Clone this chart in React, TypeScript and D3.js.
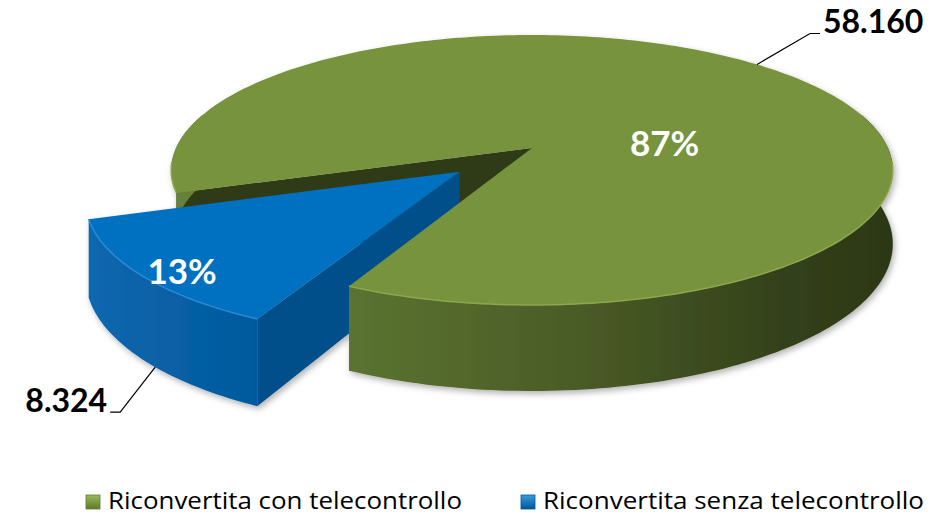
import React from "react";
import * as d3 from "d3";

// dati
const categories = ["Riconvertita con telecontrollo", "Riconvertita senza telecontrollo"];
const values = [58160, 8324];
const valueLabels = ["58.160", "8.324"];
const explode = [0, 0.264];

const topColors = ["#77933c", "#0070c0"];
const rimColors = ["#8ba84f", "#2a8ad6"];
const innerColors = ["#2f3b18", "#00508b"];
const legendColors = [
  ["#9bbb59", "#5f7a2c"],
  ["#3c9be0", "#00559a"],
];

const W = 937;
const H = 516;
// 3d projection of the pie plane (simple perspective)
const cx = 532;
const cy = 148;
const RX = 356;
const RY = 131.4;
const PERSP = 0.163;
const DEPTH = 72;
const START_DEG = 251.1;

const proj = (u: number, v: number, h = 0): [number, number] => {
  const w = 1 - PERSP * v;
  return [cx + (RX * u) / w, cy + (RY * v + h) / w];
};

const rim = (a0: number, a1: number, ou: number, ov: number, h: number) => {
  const n = Math.max(2, Math.ceil(Math.abs(a1 - a0) / 0.02));
  return d3.range(n + 1).map((i) => {
    const a = a0 + ((a1 - a0) * i) / n;
    return proj(ou + Math.cos(a), ov + Math.sin(a), h);
  });
};

const line = d3.line();
const poly = (p: [number, number][]) => line(p) + "Z";

export default function App() {
  const total = d3.sum(values);
  const pct = d3.format(".0%");
  const s0 = (START_DEG * Math.PI) / 180;
  const arcs = d3.pie<number>().sort(null).startAngle(s0).endAngle(s0 + 2 * Math.PI)(values);

  const slices = arcs.map((d, i) => {
    const a0 = d.startAngle - Math.PI / 2;
    const a1 = d.endAngle - Math.PI / 2;
    const mid = (a0 + a1) / 2;
    const ou = explode[i] * Math.cos(mid);
    const ov = explode[i] * Math.sin(mid);
    const top = poly([proj(ou, ov), ...rim(a0, a1, ou, ov, 0)]);
    const walls: string[] = [];
    const rims: string[] = [];
    const lo = (-15 * Math.PI) / 180;
    const hi = (195 * Math.PI) / 180;
    for (let k = -1; k <= 2; k++) {
      const l = Math.max(a0, lo + 2 * Math.PI * k);
      const h = Math.min(a1, hi + 2 * Math.PI * k);
      if (h > l) {
        walls.push(poly([...rim(l, h, ou, ov, 0), ...rim(h, l, ou, ov, DEPTH)]));
        const rl = Math.max(l, 2 * Math.PI * k + 0.1);
        const rh = Math.min(h, Math.PI * (2 * k + 1) - 0.1);
        if (rh > rl) rims.push(line(rim(rl, rh, ou, ov, 0)) as string);
      }
    }
    const radial = (a: number) =>
      poly([
        proj(ou, ov, 0),
        proj(ou + Math.cos(a), ov + Math.sin(a), 0),
        proj(ou + Math.cos(a), ov + Math.sin(a), DEPTH),
        proj(ou, ov, DEPTH),
      ]);
    const inner: string[] = [];
    if (Math.cos(a0) < 0) inner.push(radial(a0));
    if (Math.cos(a1) > 0) inner.push(radial(a1));
    return { i, a0, a1, mid, ou, ov, top, walls, rims, inner, value: d.data };
  });

  const main = slices.filter((s) => explode[s.i] === 0);
  const out = slices.filter((s) => explode[s.i] > 0);

  // percent label positions
  const pctPos = slices.map((s) => {
    if (explode[s.i] > 0) {
      const p = proj(s.ou + 0.9 * Math.cos(s.mid - 0.05), s.ov + 0.9 * Math.sin(s.mid - 0.05));
      return [p[0] - 5, p[1] + 15];
    }
    const p = proj(0.5 * Math.cos(s.mid), 0.5 * Math.sin(s.mid));
    return [p[0] + 6, p[1] + 49];
  });

  // value label leader lines
  const leaders = slices.map((s) => {
    if (explode[s.i] > 0) {
      const a = s.mid - 0.06;
      const p = proj(s.ou + Math.cos(a), s.ov + Math.sin(a), DEPTH);
      const e = [p[0] - 35, p[1] + 45];
      const f = [e[0] - 10, e[1]];
      return { pts: [p, e, f], tx: f[0] - 3, ty: f[1], anchor: "end" };
    }
    const a = s.mid - 0.065;
    const p = proj(Math.cos(a), Math.sin(a));
    const e = [p[0] + 53, p[1] - 31];
    const f = [e[0] + 10, e[1]];
    return { pts: [p, e, f], tx: f[0] + 3, ty: f[1], anchor: "start" };
  });

  const font = "Lato, 'Open Sans', sans-serif";
  const legendX = [86, 521];
  const legendW = [354, 381];

  return (
    <svg width={W} height={H} style={{ position: "absolute", left: 0, top: 0, background: "#fff" }}>
      <defs>
        <linearGradient id="wall0" gradientUnits="userSpaceOnUse" x1={cx - RX} x2={cx + RX} y1={0} y2={0}>
          <stop offset="0" stopColor="#66813a" />
          <stop offset="0.26" stopColor="#5a7230" />
          <stop offset="0.57" stopColor="#4a5b26" />
          <stop offset="0.85" stopColor="#33411b" />
          <stop offset="1" stopColor="#2c3816" />
        </linearGradient>
        <linearGradient id="wall1" gradientUnits="userSpaceOnUse" x1={80} x2={270} y1={0} y2={0}>
          <stop offset="0" stopColor="#0f68b0" />
          <stop offset="1" stopColor="#00589b" />
        </linearGradient>
        {legendColors.map((c, i) => (
          <linearGradient key={i} id={"leg" + i} x1="0" x2="0" y1="0" y2="1">
            <stop offset="0" stopColor={c[0]} />
            <stop offset="1" stopColor={c[1]} />
          </linearGradient>
        ))}
        <filter id="shadow" x="-10%" y="-10%" width="120%" height="130%">
          <feDropShadow dx="2" dy="3" stdDeviation="3" floodColor="#000" floodOpacity="0.3" />
        </filter>
      </defs>

      <g filter="url(#shadow)">
        {main.map((s) => s.inner.map((d, j) => <path key={"mi" + s.i + j} d={d} fill={innerColors[s.i]} />))}
        {out.map((s) => (
          <g key={"ow" + s.i}>
            {s.walls.map((d, j) => (
              <path key={j} d={d} fill={`url(#wall${s.i})`} />
            ))}
            {s.inner.map((d, j) => (
              <path key={"in" + j} d={d} fill={innerColors[s.i]} />
            ))}
          </g>
        ))}
        {main.map((s) => (
          <g key={"m" + s.i}>
            {s.walls.map((d, j) => (
              <path key={j} d={d} fill={`url(#wall${s.i})`} />
            ))}
            <path d={s.top} fill={topColors[s.i]} />
            {s.rims.map((d, j) => (
              <path key={"r" + j} d={d} fill="none" stroke={rimColors[s.i]} strokeWidth={1.5} />
            ))}
          </g>
        ))}
        {out.map((s) => (
          <g key={"ot" + s.i}>
            <path d={s.top} fill={topColors[s.i]} />
            {s.rims.map((d, j) => (
              <path key={"r" + j} d={d} fill="none" stroke={rimColors[s.i]} strokeWidth={1.5} />
            ))}
          </g>
        ))}
      </g>

      {slices.map((s) => (
        <text
          key={"p" + s.i}
          x={pctPos[s.i][0]}
          y={pctPos[s.i][1]}
          textAnchor="middle"
          fill="#fff"
          fontFamily={font}
          fontWeight="bold"
          fontSize={35}
        >
          {pct(s.value / total)}
        </text>
      ))}

      {leaders.map((l, i) => (
        <g key={"l" + i}>
          <polyline points={l.pts.map((p) => p.join(",")).join(" ")} fill="none" stroke="#000" strokeWidth={1.2} />
          <text
            x={l.tx}
            y={l.ty}
            textAnchor={l.anchor as any}
            fontFamily={font}
            fontWeight="bold"
            fontSize={32}
            fill="#000"
          >
            {valueLabels[i]}
          </text>
        </g>
      ))}

      {categories.map((c, i) => {
        const x = legendX[i];
        return (
          <g key={"lg" + i}>
            <rect x={x} y={495} width={14} height={14} fill={`url(#leg${i})`} stroke={legendColors[i][1]} strokeWidth={0.8} />
            <text
              x={x + 22}
              y={509}
              fontFamily="'Open Sans', sans-serif"
              fontSize={23}
              fill="#000"
              textLength={legendW[i]}
              lengthAdjust="spacingAndGlyphs"
            >
              {c}
            </text>
          </g>
        );
      })}
    </svg>
  );
}
